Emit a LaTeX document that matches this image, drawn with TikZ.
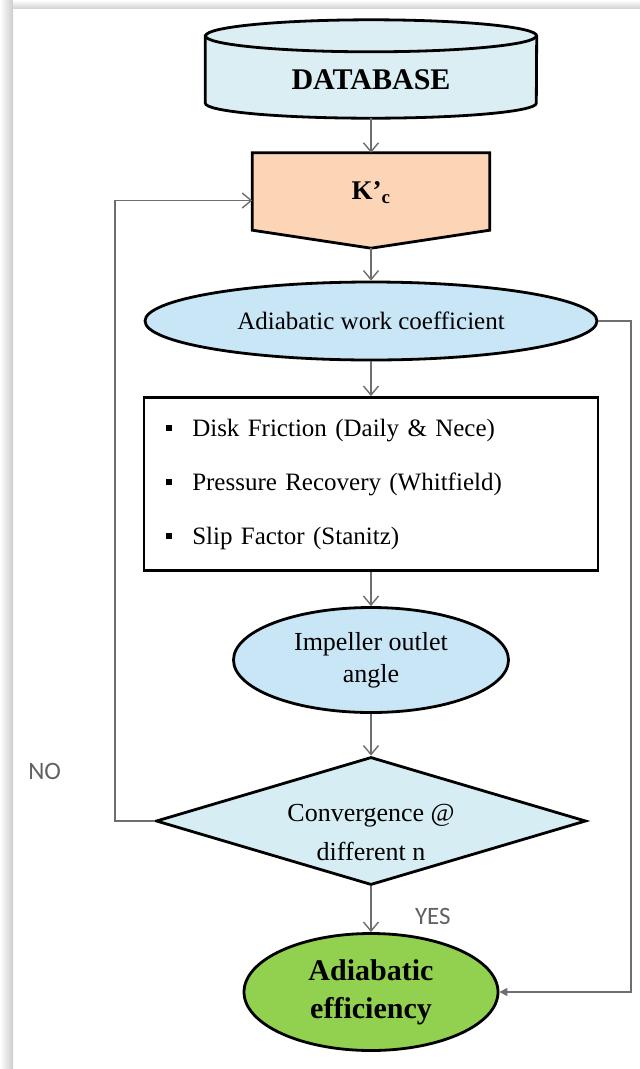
\documentclass[tikz,border=0pt]{standalone}
\usepackage{fontspec}
\setmainfont{Liberation Serif}
\newfontfamily\yesnofont{Carlito}
\usepackage{tikz}
\usetikzlibrary{shapes.geometric,arrows.meta,calc}

\definecolor{dbblue}{HTML}{DAEEF3}
\definecolor{kcorange}{HTML}{FBD5B5}
\definecolor{ovalblue}{HTML}{C9E6F7}
\definecolor{diamblue}{HTML}{D7EDF4}
\definecolor{effgreen}{HTML}{92D050}
\definecolor{linkgray}{HTML}{6E6E6E}

\newcommand\sqbullet{\rule[0.2em]{0.25em}{0.25em}}

\tikzset{
  outline/.style={draw=black, line width=2.8pt},
  link/.style={linkgray, line width=1.4pt, -{Straight Barb[length=9pt,width=15pt]}},
  yesno/.style={font=\yesnofont\fontsize{25}{28}\selectfont, text=black!62}
}

\begin{document}
\begin{tikzpicture}[x=1pt, y=-1pt, every node/.style={font=\fontsize{25}{30}\selectfont}]
    % page with its shadow
    \fill[white] (0,0) rectangle (640,1069);
    \useasboundingbox (0,0) rectangle (640,1069);
    \shade[left color=white, right color=black!20] (0,0) rectangle (13,1069);
    \shade[top color=white, bottom color=black!16] (13,0) rectangle (640,8);

    % draw the blocks
    \node (db) [minimum width=331pt, minimum height=98pt, inner sep=0pt] at (371,69) {};
    \draw[outline, fill=dbblue] ($(db.north west)+(0,16)$) -- ($(db.south west)+(0,-15)$)
        arc[start angle=180, end angle=360, x radius=165.5pt, y radius=15pt]
        -- ($(db.north east)+(0,16)$)
        arc[start angle=0, end angle=180, x radius=165.5pt, y radius=16pt] -- cycle;
    \draw[outline] ($(db.north west)+(0,16)$)
        arc[start angle=180, end angle=360, x radius=165.5pt, y radius=16pt];
    \node (dblabel) [font=\fontsize{30}{34}\selectfont\bfseries] at ($(db)+(0,11)$) {DATABASE};

    \node (kc) [minimum width=237pt, minimum height=95pt] at (371,200.5) {};
    \draw[outline, fill=kcorange] (kc.north west) -- (kc.north east)
        -- ($(kc.south east)+(0,-18)$) -- (kc.south)
        -- ($(kc.south west)+(0,-18)$) -- cycle;
    \node (kclabel) [font=\fontsize{27}{30}\selectfont\bfseries] at ($(kc)+(0,-8)$) {K’\textsubscript{c}};

    \node (awc) [ellipse, outline, fill=ovalblue, minimum width=452pt, minimum height=78pt,
        inner sep=0pt] at (371,321) {Adiabatic work coefficient};

    \node (loss) [rectangle, outline, fill=white, minimum width=454pt, minimum height=173pt,
        text width=410pt, inner xsep=22pt, align=left] at (371,484)
        {\sqbullet\hspace{20pt}Disk Friction (Daily \& Nece)\\[24pt]
         \sqbullet\hspace{20pt}Pressure Recovery (Whitfield)\\[24pt]
         \sqbullet\hspace{20pt}Slip Factor (Stanitz)};

    \node (imp) [ellipse, outline, fill=ovalblue, minimum width=275pt, minimum height=105pt,
        inner sep=0pt, align=center, font=\fontsize{26}{32}\selectfont] at (371,660)
        {Impeller outlet\\angle};

    \node (conv) [diamond, outline, fill=diamblue, aspect=3.36, minimum width=430pt,
        minimum height=128pt, inner sep=0pt, font=\fontsize{26}{31}\selectfont] at (371,821)
        {\raisebox{-20pt}[0pt][0pt]{\begin{tabular}{@{}c@{}}Convergence @\\[8pt] different n\end{tabular}}};

    \node (eff) [ellipse, outline, fill=effgreen, minimum width=254pt, minimum height=117pt,
        inner sep=0pt, align=center, font=\fontsize{30}{38}\selectfont\bfseries] at (371,992)
        {Adiabatic\\efficiency};

    % draw the links
    \coordinate (back) at (115,200.5);
    \coordinate (turn) at (631,321);
    \draw[link] (db.south) -- (kc.north);
    \draw[link] (kc.south) -- (awc.north);
    \draw[link] (awc.south) -- (loss.north);
    \draw[link] (loss.south) -- (imp.north);
    \draw[link] (imp.south) -- (conv.north);
    \draw[link] (conv.south) -- (eff.north) node (yes) [yesno, pos=0.66, right=40pt] {YES};
    \draw[link] (conv.west) -| (back) node (no) [yesno, pos=0.54, left=50pt] {NO} -- (kc.west);
    \draw[link, -{Triangle[length=8pt,width=8pt]}] (awc.east) -- (turn) |- (eff.east);
\end{tikzpicture}
\end{document}
